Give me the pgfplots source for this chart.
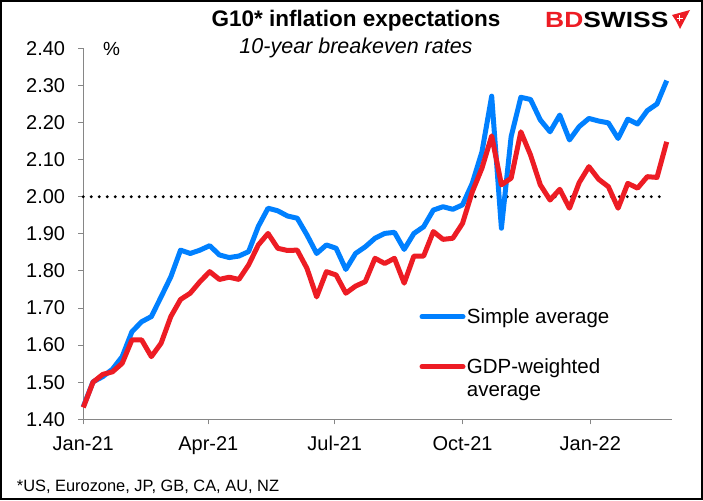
\documentclass[border=0pt]{standalone}
\usepackage{fontspec}
\setmainfont{Liberation Sans}
\usepackage{pgfplots}
\usepackage{pgfplotstable}
\pgfplotsset{compat=1.18}
\definecolor{sblue}{RGB}{0,128,255}
\definecolor{sred}{RGB}{237,28,36}
\definecolor{axgray}{RGB}{134,134,134}

\pgfplotstableread{
day simple gdp
0   1.434 1.432
7   1.501 1.500
14  1.515 1.521
21  1.535 1.528
28  1.569 1.551
35  1.636 1.614
42  1.663 1.614
49  1.677 1.569
56  1.730 1.605
63  1.784 1.677
70  1.856 1.723
77  1.847 1.740
84  1.856 1.771
91  1.868 1.798
98  1.843 1.777
105 1.836 1.783
112 1.840 1.777
119 1.852 1.816
126 1.920 1.870
133 1.969 1.901
140 1.962 1.861
147 1.948 1.855
154 1.942 1.856
161 1.897 1.807
168 1.847 1.730
175 1.870 1.798
182 1.861 1.789
189 1.804 1.740
196 1.847 1.759
203 1.865 1.771
210 1.888 1.834
217 1.901 1.820
224 1.904 1.834
231 1.858 1.767
238 1.901 1.840
245 1.919 1.840
252 1.964 1.906
259 1.973 1.885
266 1.966 1.888
273 1.978 1.928
280 2.036 2.013
287 2.121 2.077
294 2.271 2.164
301 1.915 2.032
308 2.162 2.050
315 2.268 2.175
322 2.262 2.112
329 2.207 2.032
336 2.175 1.991
343 2.220 2.020
350 2.153 1.969
357 2.189 2.038
364 2.211 2.081
371 2.204 2.047
378 2.199 2.027
385 2.157 1.969
392 2.209 2.036
399 2.196 2.023
406 2.232 2.054
413 2.250 2.052
420 2.313 2.148
}\breakeven

\begin{document}
\begin{tikzpicture}[x=1pt,y=1pt]
\useasboundingbox (0,0) rectangle (703,-500);
\fill[white] (0,0) rectangle (703,-500);
\begin{axis}[
  at={(83.3pt,-419.3pt)}, anchor=south west, scale only axis,
  width=588.4pt, height=371pt,
  xmin=0, xmax=423.6, ymin=1.4, ymax=2.4,
  axis x line*=bottom, axis y line*=left,
  axis line style={axgray, line width=1pt, -},
  tick style={axgray, line width=1pt},
  tick align=outside, major tick length=5pt,
  xtick={0,90,181,273,365},
  xticklabels={Jan-21,Apr-21,Jul-21,Oct-21,Jan-22},
  ytick={1.4,1.5,1.6,1.7,1.8,1.9,2.0,2.1,2.2,2.3,2.4},
  /pgf/number format/assume math mode=true,
  yticklabel style={/pgf/number format/.cd, fixed, fixed zerofill, precision=2},
  tick label style={font=\fontsize{20}{24}\selectfont, text=black, inner sep=0pt},
  yticklabel shift=13pt,
  xticklabel shift=12pt,
  clip=false,
]
\addplot[black, line width=3.2pt, line cap=round, dash pattern=on 0pt off 8pt] coordinates {(0,2.0) (416.5,2.0)};
\addplot[sblue, line width=5pt, line join=round] table[x=day, y=simple] {\breakeven};
\addplot[sred, line width=5pt, line join=round] table[x=day, y=gdp] {\breakeven};
\end{axis}

% titles
\node[anchor=base, inner sep=0] at (356,-27) {\fontsize{22.5}{26}\selectfont\bfseries G10* inflation expectations};
\node[anchor=base, inner sep=0] at (356,-54) {\fontsize{21.5}{26}\selectfont\itshape 10-year breakeven rates};
\node[anchor=base west, inner sep=0] at (103,-56) {\fontsize{19}{22}\selectfont \%};

% legend
\draw[sblue, line width=5pt, line cap=round] (422,-316.7) -- (463,-316.7);
\node[anchor=base west, inner sep=0] at (466.7,-323.3) {\fontsize{20.5}{24}\selectfont Simple average};
\draw[sred, line width=5pt, line cap=round] (422,-366.7) -- (463,-366.7);
\node[anchor=base west, inner sep=0] at (466.7,-373.3) {\fontsize{20.5}{24}\selectfont GDP-weighted};
\node[anchor=base west, inner sep=0] at (466.7,-396) {\fontsize{20.5}{24}\selectfont average};

% footnote
\node[anchor=base west, inner sep=0] at (16.7,-491.5) {\fontsize{16.4}{20}\selectfont *US, Eurozone, JP, GB, CA, AU, NZ};

% logo
\node[anchor=base west, inner sep=0] at (545,-28) {\fontsize{22}{22}\selectfont\bfseries\scalebox{1.2}[1]{\textcolor{sred}{BD}SWISS}};
\fill[sred] (672,-15) -- (690,-10) -- (680,-29) -- (676,-21) -- cycle;
\draw[white, line width=1.4pt] (676.5,-18.5) -- (682.5,-18.5) (679.5,-15.5) -- (679.5,-21.5);

% frame
\draw[black, line width=2pt] (1,-1) rectangle (702,-499);
\end{tikzpicture}
\end{document}
